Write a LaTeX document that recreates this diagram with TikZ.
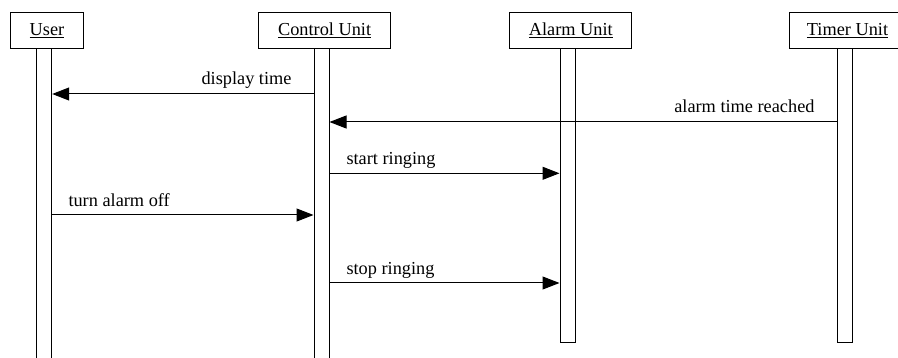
\documentclass[tikz,border=0pt]{standalone}
\usepackage{fontspec}
\setmainfont{Liberation Serif}
\usetikzlibrary{arrows.meta}
\begin{document}
\begin{tikzpicture}[x=1pt,y=-1pt,
  line width=1pt,
  every node/.style={font=\fontsize{18.3}{22}\selectfont, inner sep=0pt},
  head/.style={draw, rectangle, minimum height=35.6pt, fill=white},
  lifeline/.style={draw, rectangle, minimum width=15pt, anchor=north},
  msg/.style={-{Triangle[length=17pt,width=13pt]}},
  lbl/.style={anchor=base west},
  lblr/.style={anchor=base east}]
\useasboundingbox (0,0) rectangle (898,358);
\fill[white] (0,0) rectangle (898,358);

% object heads
\node[head, minimum width=72.6pt] (user) at (47,30.5) {\underline{User}};
\node[head, minimum width=132.7pt] (ctl) at (324.6,30.5) {\underline{Control Unit}};
\node[head, minimum width=121.7pt] (alarm) at (570.8,30.5) {\underline{Alarm Unit}};
\node[head, minimum width=116.4pt] (timer) at (847.5,30.5) {\underline{Timer Unit}};

% lifelines
\node[lifeline, minimum height=320pt] (userL) at (44.2,48.3) {};
\node[lifeline, minimum height=320pt] (ctlL) at (321.5,48.3) {};
\node[lifeline, minimum height=293.4pt] (alarmL) at (567.5,48.3) {};
\node[lifeline, minimum height=293.4pt] (timerL) at (845.3,48.3) {};

% messages
\draw[msg] (ctlL.west |- 0,94) -- (userL.east |- 0,94);
\node[lblr] (m1) at (292,84.5) {display time};

\draw[msg] (timerL.west |- 0,122) -- (ctlL.east |- 0,122);
\node[lblr] (m2) at (815,112.5) {alarm time reached};

\draw[msg] (ctlL.east |- 0,173.3) -- (alarmL.west |- 0,173.3);
\node[lbl] (m3) at (346,164.5) {start ringing};

\draw[msg] (userL.east |- 0,215) -- (ctlL.west |- 0,215);
\node[lbl] (m4) at (68,206.5) {turn alarm off};

\draw[msg] (ctlL.east |- 0,283) -- (alarmL.west |- 0,283);
\node[lbl] (m5) at (346,274.5) {stop ringing};
\end{tikzpicture}
\end{document}
